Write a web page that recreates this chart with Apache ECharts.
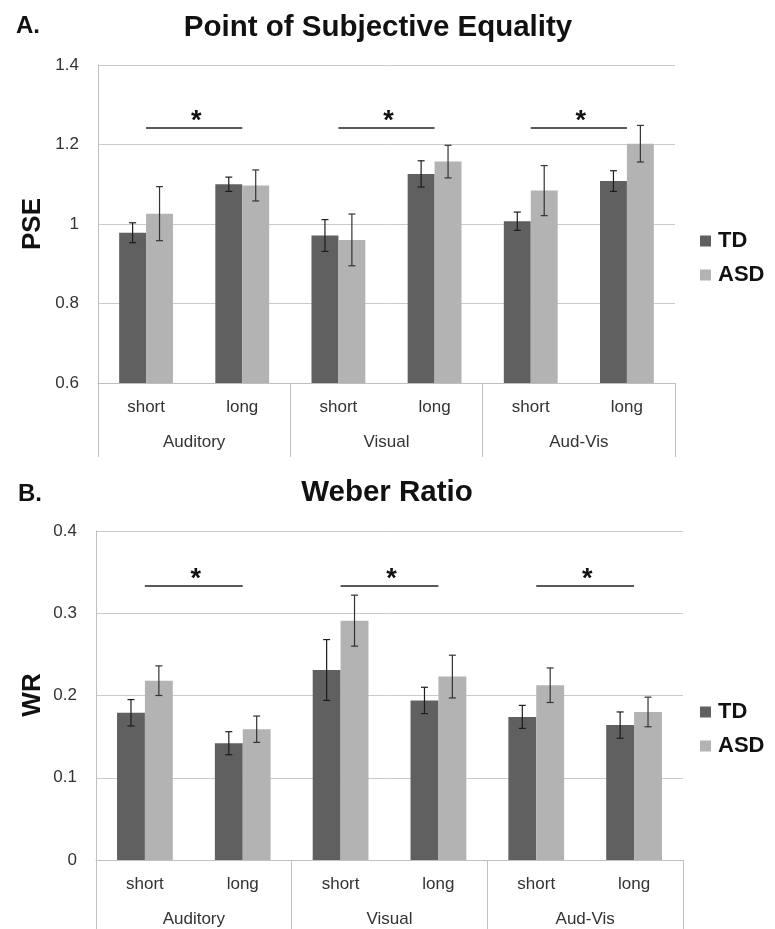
<!DOCTYPE html>
<html>
<head>
<meta charset="utf-8">
<title>PSE and Weber Ratio</title>
<script src="https://cdn.jsdelivr.net/npm/echarts@6/dist/echarts.min.js"></script>
<style>
  html, body { margin: 0; padding: 0; background: #fff; }
  #chart { width: 775px; height: 929px; }
</style>
</head>
<body>
<div id="chart"></div>
<script>
// Two-tier category axis: duration within modality
const modalityLabels = ['Auditory', 'Visual', 'Aud-Vis'];
const durationLabels = ['short', 'long'];

// Panel A: point of subjective equality (means and standard errors)
const pseTD = [0.978, 1.100, 0.971, 1.126, 1.007, 1.108];
const pseTDErr = [0.025, 0.018, 0.040, 0.033, 0.023, 0.026];
const pseASD = [1.026, 1.097, 0.960, 1.157, 1.084, 1.202];
const pseASDErr = [0.068, 0.039, 0.065, 0.041, 0.063, 0.046];

// Panel B: Weber ratio (means and standard errors)
const wrTD = [0.179, 0.142, 0.231, 0.194, 0.174, 0.164];
const wrTDErr = [0.016, 0.014, 0.037, 0.016, 0.014, 0.016];
const wrASD = [0.218, 0.159, 0.291, 0.223, 0.2125, 0.180];
const wrASDErr = [0.018, 0.016, 0.031, 0.026, 0.021, 0.018];

// Significance brackets: short vs long within each modality
const sigPairs = [[0, 1], [2, 3], [4, 5]];
const pseSigLevel = 1.2415;
const wrSigLevel = 0.3332;

// Value-axis tick settings
const pseAxis = { min: 0.6, max: 1.4, interval: 0.2 };
const wrAxis = { min: 0, max: 0.4, interval: 0.1 };

const FONT = "'Liberation Sans', Arial, Helvetica, sans-serif";
const TD_COLOR = '#606060';
const ASD_COLOR = '#b3b3b3';
const AXIS_COLOR = '#bfbfbf';
const GRID_COLOR = '#cbcbcb';
const TEXT_COLOR = '#333333';

const categories = [];
modalityLabels.forEach(m => durationLabels.forEach(d => categories.push(m + '|' + d)));

const grids = [
  { left: 98, top: 65, width: 577, height: 318, gap: 0.44 },
  { left: 96, top: 531, width: 587, height: 329, gap: 0.43 }
];

function makeXAxes(gi, groupTickLen) {
  return [
    {
      type: 'category', gridIndex: gi, data: categories, position: 'bottom',
      axisLine: { show: true, lineStyle: { color: AXIS_COLOR, width: 1 } },
      axisTick: { show: false },
      axisLabel: {
        interval: 0, margin: 16, color: TEXT_COLOR, fontSize: 17, fontFamily: FONT,
        formatter: v => v.split('|')[1]
      },
      splitLine: { show: false }
    },
    {
      type: 'category', gridIndex: gi, data: modalityLabels, position: 'bottom', offset: 0,
      axisLine: { show: false },
      axisTick: { show: true, length: groupTickLen, lineStyle: { color: AXIS_COLOR, width: 1 } },
      axisLabel: { interval: 0, margin: 51, color: TEXT_COLOR, fontSize: 17, fontFamily: FONT },
      splitLine: { show: false }
    }
  ];
}

function makeYAxis(gi, cfg) {
  return {
    type: 'value', gridIndex: gi, min: cfg.min, max: cfg.max, interval: cfg.interval,
    axisLine: { show: true, lineStyle: { color: AXIS_COLOR, width: 1 } },
    axisTick: { show: false },
    axisLabel: { margin: 19, color: TEXT_COLOR, fontSize: 17, fontFamily: FONT },
    splitLine: { show: true, lineStyle: { color: GRID_COLOR, width: 1 } }
  };
}

function barSeries(name, values, color, gi, gap) {
  return {
    name: name, type: 'bar', xAxisIndex: gi * 2, yAxisIndex: gi,
    data: values, barGap: '0%', barCategoryGap: (gap * 100) + '%',
    itemStyle: { color: color },
    emphasis: { disabled: true },
    animation: false
  };
}

// Error bars centred on each bar of a pair (side -1 = TD, +1 = ASD)
function errorSeries(name, values, errs, side, gi, gap, color) {
  return {
    name: name, type: 'custom', xAxisIndex: gi * 2, yAxisIndex: gi,
    silent: true, z: 5, animation: false,
    data: values.map((v, i) => [i, v, errs[i]]),
    renderItem: function (params, api) {
      const idx = api.value(0), v = api.value(1), e = api.value(2);
      const band = api.size([1, 0])[0];
      const barW = band * (1 - gap) / 2;
      const x = api.coord([idx, v])[0] + side * barW / 2;
      const yHi = api.coord([idx, v + e])[1];
      const yLo = api.coord([idx, v - e])[1];
      const cap = 3.5;
      const style = { stroke: color, lineWidth: 1.2 };
      return {
        type: 'group',
        children: [
          { type: 'line', shape: { x1: x, y1: yHi, x2: x, y2: yLo }, style: style },
          { type: 'line', shape: { x1: x - cap, y1: yHi, x2: x + cap, y2: yHi }, style: style },
          { type: 'line', shape: { x1: x - cap, y1: yLo, x2: x + cap, y2: yLo }, style: style }
        ]
      };
    }
  };
}

function sigSeries(level, gi) {
  return {
    name: 'sig' + gi, type: 'custom', xAxisIndex: gi * 2, yAxisIndex: gi,
    silent: true, z: 6, animation: false, clip: false,
    data: sigPairs.map(p => [p[0], p[1], level]),
    renderItem: function (params, api) {
      const a = api.coord([api.value(0), api.value(2)]);
      const b = api.coord([api.value(1), api.value(2)]);
      return {
        type: 'group',
        children: [
          { type: 'line', shape: { x1: a[0], y1: a[1], x2: b[0], y2: b[1] },
            style: { stroke: '#222', lineWidth: 1.6 } },
          { type: 'text', x: (a[0] + b[0]) / 2 + 2, y: a[1] - 6,
            style: { text: '*', font: 'bold 27px ' + FONT, fill: '#111',
                     align: 'center', verticalAlign: 'middle' } }
        ]
      };
    }
  };
}

function legendFor(top) {
  return {
    data: ['TD', 'ASD'], orient: 'vertical', left: 700, top: top, padding: 0,
    itemWidth: 11, itemHeight: 11, itemGap: 12, icon: 'rect',
    selectedMode: false,
    textStyle: { fontSize: 22, fontWeight: 'bold', color: '#111', fontFamily: FONT,
                 padding: [0, 0, 0, 2] }
  };
}

function label(text, x, y, size, opts) {
  return Object.assign({
    type: 'text', x: x, y: y, silent: true,
    style: { text: text, font: 'bold ' + size + 'px ' + FONT, fill: '#111',
             align: 'center', verticalAlign: 'middle' }
  }, opts || {});
}

const option = {
  backgroundColor: '#fff',
  animation: false,
  textStyle: { fontFamily: FONT },
  grid: grids.map(g => ({ left: g.left, top: g.top, width: g.width, height: g.height,
                          containLabel: false })),
  xAxis: makeXAxes(0, 74).concat(makeXAxes(1, 72)),
  yAxis: [makeYAxis(0, pseAxis), makeYAxis(1, wrAxis)],
  legend: [legendFor(230), legendFor(701)],
  series: [
    barSeries('TD', pseTD, TD_COLOR, 0, grids[0].gap),
    barSeries('ASD', pseASD, ASD_COLOR, 0, grids[0].gap),
    errorSeries('TD error', pseTD, pseTDErr, -1, 0, grids[0].gap, '#1c1c1c'),
    errorSeries('ASD error', pseASD, pseASDErr, 1, 0, grids[0].gap, '#333333'),
    sigSeries(pseSigLevel, 0),
    barSeries('TD', wrTD, TD_COLOR, 1, grids[1].gap),
    barSeries('ASD', wrASD, ASD_COLOR, 1, grids[1].gap),
    errorSeries('TD error', wrTD, wrTDErr, -1, 1, grids[1].gap, '#1c1c1c'),
    errorSeries('ASD error', wrASD, wrASDErr, 1, 1, grids[1].gap, '#333333'),
    sigSeries(wrSigLevel, 1)
  ],
  graphic: [
    label('A.', 28, 26, 24),
    label('Point of Subjective Equality', 378, 28, 29.5),
    label('PSE', 33, 224, 26, { rotation: Math.PI / 2 }),
    label('B.', 30, 494, 24),
    label('Weber Ratio', 387, 493, 29.5),
    label('WR', 33, 695, 26, { rotation: Math.PI / 2 })
  ]
};

const chart = echarts.init(document.getElementById('chart'), null, { renderer: 'canvas' });
chart.setOption(option);
</script>
</body>
</html>
